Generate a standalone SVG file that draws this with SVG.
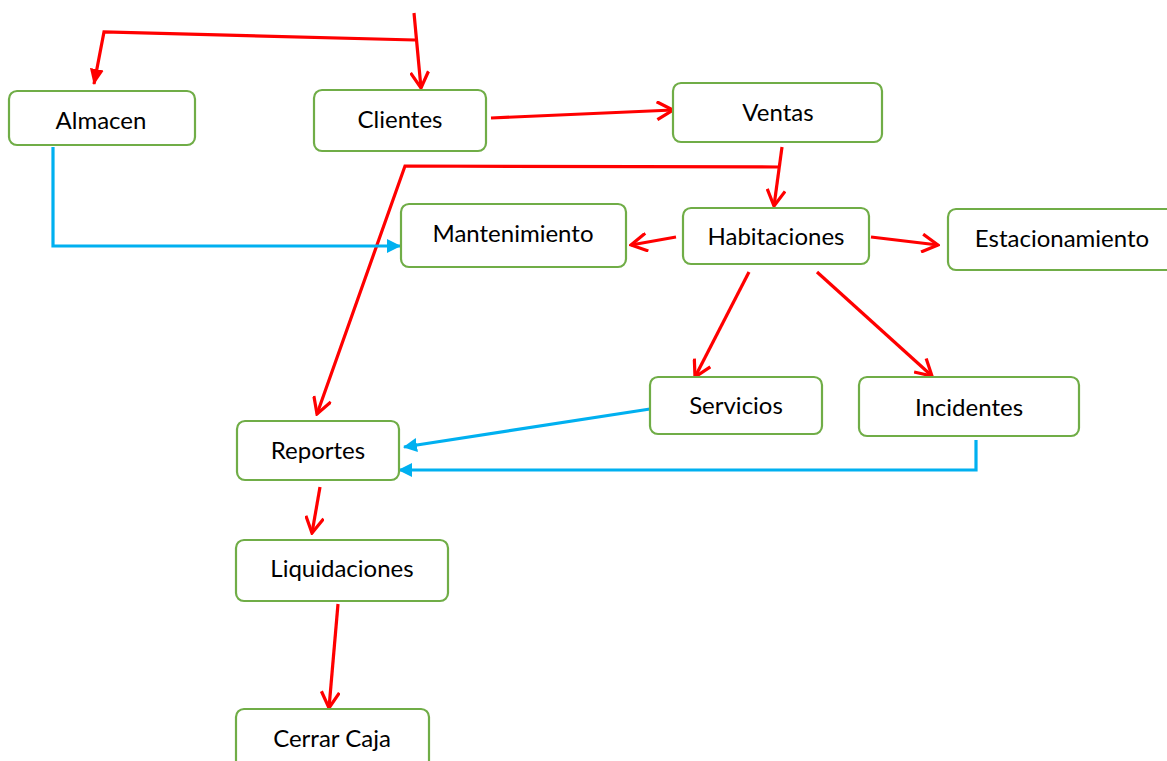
<svg xmlns="http://www.w3.org/2000/svg" width="1167" height="761" viewBox="0 0 1167 761">
<style>
.box{fill:#fff;stroke:#70AD47;stroke-width:2.2}
.lbl{font-family:Lato,"Open Sans","Liberation Sans",sans-serif;font-size:24px;fill:#000;text-anchor:middle}
.red{fill:none;stroke:#FF0000;stroke-width:3.2}
.blue{fill:none;stroke:#00B0F0;stroke-width:3.2}
</style>
<defs>
<marker id="openR" viewBox="0 0 20 20" refX="18" refY="10" markerWidth="20" markerHeight="20" markerUnits="userSpaceOnUse" orient="auto">
<path d="M2,1 L18,10 L2,19" fill="none" stroke="#FF0000" stroke-width="3.2"/>
</marker>
<marker id="fillR" viewBox="0 0 16 14" refX="15" refY="7" markerWidth="16" markerHeight="14" markerUnits="userSpaceOnUse" orient="auto">
<path d="M0,0 L16,7 L0,14 z" fill="#FF0000"/>
</marker>
<marker id="fillB" viewBox="0 0 14 14" refX="13" refY="7" markerWidth="14" markerHeight="14" markerUnits="userSpaceOnUse" orient="auto">
<path d="M0,0 L14,7 L0,14 z" fill="#00B0F0"/>
</marker>
</defs>
<rect width="1167" height="761" fill="#fff"/>
<g id="connectors">
<path class="red" d="M414,13 L421,88" marker-end="url(#openR)"/>
<path class="red" d="M415,40 L104,32 L94,84" marker-end="url(#fillR)"/>
<path class="red" d="M491,118 L673,110" marker-end="url(#openR)"/>
<path class="red" d="M782,147 L774,206" marker-end="url(#openR)"/>
<path class="red" d="M778,167 L405,166 L317,414" marker-end="url(#openR)"/>
<path class="red" d="M676,237 L631,245" marker-end="url(#openR)"/>
<path class="red" d="M871,237 L938,245" marker-end="url(#openR)"/>
<path class="red" d="M749,272 L695,377" marker-end="url(#openR)"/>
<path class="red" d="M817,272 L932,376" marker-end="url(#openR)"/>
<path class="red" d="M320,487 L312,533" marker-end="url(#openR)"/>
<path class="red" d="M338,604 L329,708" marker-end="url(#openR)"/>
<path class="blue" d="M53,147 L53,246 L400,246" marker-end="url(#fillB)"/>
<path class="blue" d="M650,409 L404,447" marker-end="url(#fillB)"/>
<path class="blue" d="M976,440 L976,470 L399,470" marker-end="url(#fillB)"/>
</g>
<g id="almacen"><rect class="box" x="9" y="91" width="186" height="54" rx="8"/><text class="lbl" x="101" y="129">Almacen</text></g>
<g id="clientes"><rect class="box" x="314" y="90" width="172" height="61" rx="8"/><text class="lbl" x="400" y="128">Clientes</text></g>
<g id="ventas"><rect class="box" x="673" y="83" width="209" height="59" rx="8"/><text class="lbl" x="778" y="121">Ventas</text></g>
<g id="mantenimiento"><rect class="box" x="401" y="204" width="225" height="63" rx="8"/><text class="lbl" x="513" y="242">Mantenimiento</text></g>
<g id="habitaciones"><rect class="box" x="683" y="208" width="186" height="56" rx="8"/><text class="lbl" x="776" y="245">Habitaciones</text></g>
<g id="estacionamiento"><rect class="box" x="948" y="209" width="230" height="61" rx="8"/><text class="lbl" x="1062" y="247">Estacionamiento</text></g>
<g id="servicios"><rect class="box" x="650" y="377" width="172" height="57" rx="8"/><text class="lbl" x="736" y="414">Servicios</text></g>
<g id="incidentes"><rect class="box" x="859" y="377" width="220" height="59" rx="8"/><text class="lbl" x="969" y="416">Incidentes</text></g>
<g id="reportes"><rect class="box" x="237" y="421" width="162" height="59" rx="8"/><text class="lbl" x="318" y="459">Reportes</text></g>
<g id="liquidaciones"><rect class="box" x="236" y="540" width="212" height="61" rx="8"/><text class="lbl" x="342" y="577">Liquidaciones</text></g>
<g id="cerrar-caja"><rect class="box" x="236" y="709" width="193" height="70" rx="8"/><text class="lbl" x="332" y="747">Cerrar Caja</text></g>
</svg>
